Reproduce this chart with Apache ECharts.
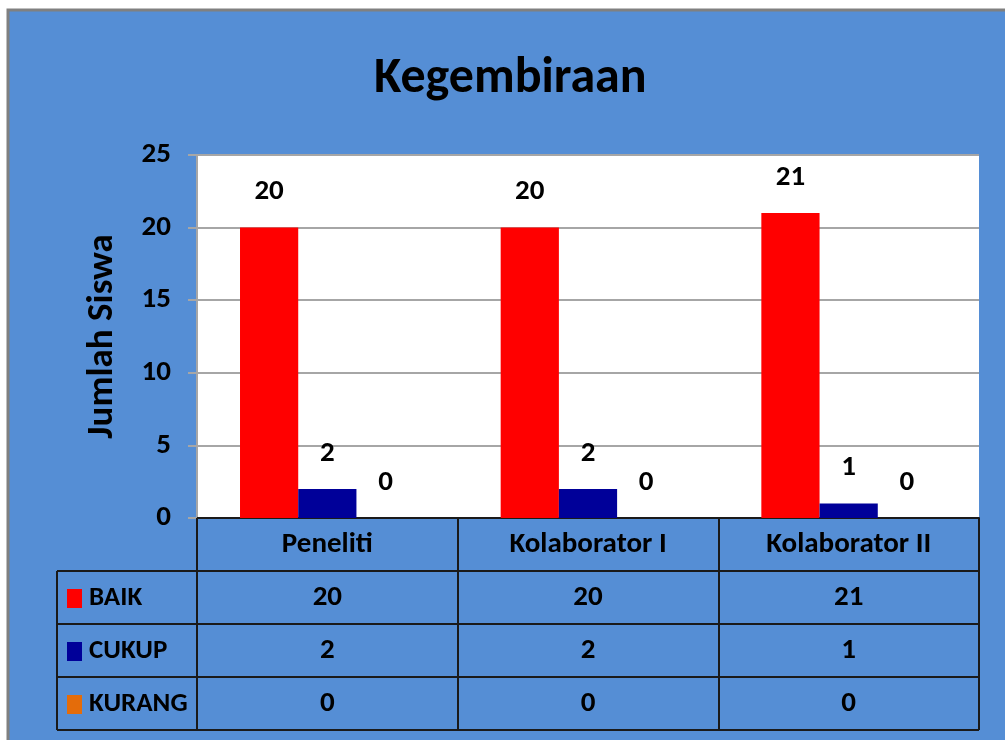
<!DOCTYPE html>
<html>
<head>
<meta charset="utf-8">
<title>Kegembiraan</title>
<script src="https://cdn.jsdelivr.net/npm/echarts@6/dist/echarts.min.js"></script>
<style>
  html, body { margin: 0; padding: 0; background: #fff; }
  #chart { width: 1005px; height: 740px; }
</style>
</head>
<body>
<div id="chart"></div>
<script>
// data
var categories = ['Peneliti', 'Kolaborator I', 'Kolaborator II'];
var seriesNames = ['BAIK', 'CUKUP', 'KURANG'];
var baik = [20, 20, 21];
var cukup = [2, 2, 1];
var kurang = [0, 0, 0];
var yMin = 0, yMax = 25, yStep = 5;

var FONT = 'Carlito, "Liberation Sans Narrow", "Liberation Sans", sans-serif';
var FS = 29;
var colors = ['#FF0000', '#000099', '#E46C0A'];
var lineColor = '#1a1a1a';

// plot area (grid) layout
var G = { left: 197, top: 155, right: 26, bottom: 222 };
var rowH = 53;

var myChart = echarts.init(document.getElementById('chart'));

function barSeries(name, data, idx) {
    return {
        name: name,
        type: 'bar',
        data: data,
        barGap: '0%',
        barCategoryGap: '33%',
        itemStyle: { color: colors[idx] },
        label: {
            show: true,
            position: 'top',
            distance: 21,
            color: '#000',
            fontFamily: FONT,
            fontWeight: 'bold',
            fontSize: FS
        }
    };
}

var option = {
    backgroundColor: '#fff',
    color: colors,
    title: {
        text: 'Kegembiraan',
        left: 369,
        top: 49,
        textStyle: { fontFamily: FONT, fontWeight: 'bold', fontSize: 50, color: '#000' }
    },
    legend: {
        data: seriesNames,
        orient: 'vertical',
        left: 62,
        top: 580,
        itemGap: 26,
        itemWidth: 15,
        itemHeight: 19,
        icon: 'rect',
        selectedMode: false,
        textStyle: { fontFamily: FONT, fontWeight: 'bold', fontSize: 27, lineHeight: 27, color: '#000', padding: [0, 0, 0, 2] }
    },
    grid: {
        left: G.left, top: G.top, right: G.right, bottom: G.bottom,
        show: true,
        backgroundColor: '#fff',
        borderWidth: 0
    },
    xAxis: {
        type: 'category',
        data: categories,
        axisLine: { lineStyle: { color: lineColor, width: 2 } },
        axisTick: { show: true, length: rowH * 4, lineStyle: { color: lineColor, width: 2 } },
        axisLabel: {
            margin: 12,
            color: '#000',
            fontFamily: FONT,
            fontWeight: 'bold',
            fontSize: FS
        }
    },
    yAxis: {
        type: 'value',
        min: yMin,
        max: yMax,
        interval: yStep,
        name: 'Jumlah Siswa',
        nameLocation: 'middle',
        nameGap: 76,
        nameRotate: 90,
        nameTextStyle: { fontFamily: FONT, fontWeight: 'bold', fontSize: 37, color: '#000' },
        axisLine: { show: true, lineStyle: { color: '#a6a6a6', width: 2 } },
        axisTick: { show: true, length: 9, lineStyle: { color: '#a6a6a6', width: 2 } },
        axisLabel: {
            margin: 26,
            color: '#000',
            fontFamily: FONT,
            fontWeight: 'bold',
            fontSize: FS
        },
        splitLine: { lineStyle: { color: '#a6a6a6', width: 2 } }
    },
    series: [
        barSeries(seriesNames[0], baik, 0),
        barSeries(seriesNames[1], cukup, 1),
        barSeries(seriesNames[2], kurang, 2)
    ]
};

myChart.setOption(option);

// 外框 + 数据表
function drawTable() {
    var W = myChart.getWidth(), H = myChart.getHeight();
    var x0 = 57;
    var xR = W - G.right;
    var yAxisY = H - G.bottom;
    var els = [];

    els.push({
        type: 'rect', z: -10, silent: true,
        shape: { x: 8, y: 10, width: W + 10, height: H + 10 },
        style: { fill: '#558ED5', stroke: '#808080', lineWidth: 3 }
    });

    // row lines
    for (var r = 1; r <= 4; r++) {
        var y = yAxisY + r * rowH;
        els.push({
            type: 'line', silent: true, z: 50,
            shape: { x1: x0, y1: y, x2: xR, y2: y },
            style: { stroke: lineColor, lineWidth: 2 }
        });
    }
    // left border of legend column
    els.push({
        type: 'line', silent: true, z: 50,
        shape: { x1: x0, y1: yAxisY + rowH, x2: x0, y2: yAxisY + rowH * 4 },
        style: { stroke: lineColor, lineWidth: 2 }
    });

    var rows = [baik, cukup, kurang];
    for (var i = 0; i < rows.length; i++) {
        for (var j = 0; j < categories.length; j++) {
            var cx = myChart.convertToPixel({ xAxisIndex: 0 }, categories[j]);
            els.push({
                type: 'text', silent: true, z: 50,
                x: cx, y: yAxisY + rowH * (i + 1) + rowH / 2,
                style: {
                    text: String(rows[i][j]),
                    align: 'center', verticalAlign: 'middle',
                    font: 'bold ' + FS + 'px ' + FONT,
                    fill: '#000'
                }
            });
        }
    }
    myChart.setOption({ graphic: els });
}
drawTable();
</script>
</body>
</html>
